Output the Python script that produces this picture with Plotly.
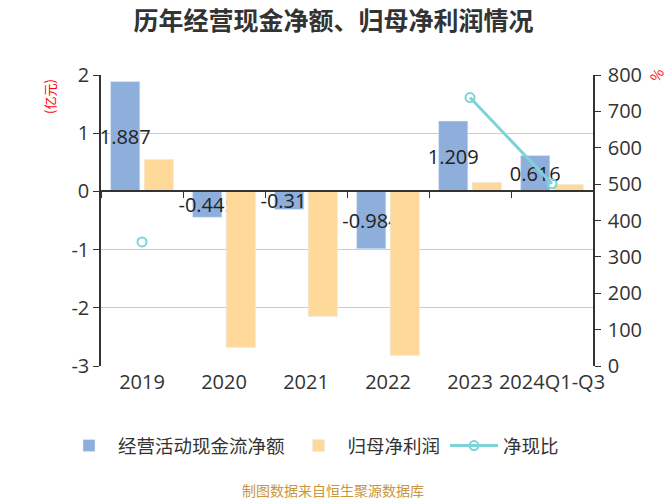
import plotly.graph_objects as go

categories = ["2019", "2020", "2021", "2022", "2023", "2024Q1-Q3"]
cash_flow = [1.887, -0.445, -0.311, -0.984, 1.209, 0.616]
net_profit = [0.55, -2.68, -2.15, -2.82, 0.155, 0.12]
ratio = [341, None, None, None, 738, 501]
cash_labels = ["1.887", "-0.445", "-0.311", "-0.984", "1.209", "0.616"]
left_ticks = [2, 1, 0, -1, -2, -3]
left_tick_text = ["2", "1", "0", "-1", "-2", "-3"]

FONT = "Open Sans, Noto Sans CJK SC"
CJK = "Noto Sans CJK SC"
BLUE = "#8EAFDC"
ORANGE = "#FFD999"
CYAN = "#7CD3D8"
TICK = 20

fig = go.Figure()
fig.add_trace(go.Bar(
    x=categories, y=cash_flow, name="经营活动现金流净额",
    marker=dict(color=BLUE), text=cash_labels, textangle=0,
    textposition="inside", insidetextanchor="middle", constraintext="none",
    textfont=dict(color="#222", size=20, family=FONT), cliponaxis=False,
))
fig.add_trace(go.Bar(
    x=categories, y=net_profit, name="归母净利润",
    marker=dict(color=ORANGE),
))
fig.add_trace(go.Scatter(
    x=categories, y=ratio, name="净现比", yaxis="y2",
    mode="lines+markers", connectgaps=False,
    line=dict(color=CYAN, width=3),
    marker=dict(symbol="circle-open", size=9, color=CYAN, line=dict(width=2, color=CYAN)),
))
# dummy trace for the zero-line tick axis
fig.add_trace(go.Scatter(x=categories, y=[None]*len(categories), xaxis="x2",
                         showlegend=False, hoverinfo="skip"))

fig.update_layout(
    width=667, height=500,
    margin=dict(l=101, r=74, t=75, b=134),
    paper_bgcolor="white", plot_bgcolor="white",
    font=dict(family=FONT, color="#333"),
    title=dict(text="<b>历年经营现金净额、归母净利润情况</b>", x=0.5, xanchor="center",
               y=0.958, yanchor="middle", font=dict(size=25, color="#333", family=CJK)),
    barmode="group", bargap=0.18, bargroupgap=0.13,
    xaxis=dict(type="category", showline=False, ticks="", showgrid=False,
               tickfont=dict(size=TICK, color="#333"), ticklabelstandoff=2),
    xaxis2=dict(type="category", overlaying="x", anchor="free", position=0.6,
                showline=True, linecolor="#333", linewidth=1.5, ticks="outside",
                tickson="boundaries", ticklen=6, tickcolor="#333",
                showticklabels=False, showgrid=False, matches="x"),
    yaxis=dict(range=[-3, 2], tickmode="array", tickvals=left_ticks, ticktext=left_tick_text,
               showline=True, linecolor="#333", linewidth=1.5,
               ticks="outside", ticklen=6, tickcolor="#333",
               showgrid=True, gridcolor="#cccccc", gridwidth=1, zeroline=False,
               tickfont=dict(size=TICK, color="#333")),
    yaxis2=dict(range=[0, 800], dtick=100, overlaying="y", side="right",
                showline=True, linecolor="#333", linewidth=1.5,
                ticks="outside", ticklen=6, tickcolor="#333", ticklabelstandoff=3,
                showgrid=False, zeroline=False, tickfont=dict(size=TICK, color="#333")),
    legend=dict(orientation="h", x=(60 - 101) / 492, xanchor="left", y=-0.275, yanchor="middle",
                font=dict(size=18.5, color="#333", family=CJK), itemwidth=48, traceorder="normal"),
)

pw = 667 - 101 - 74
ph = 500 - 75 - 134


def px_ann(text, px, py, size, color, angle=0):
    fig.add_annotation(text=text, x=(px - 101) / pw, y=(500 - 134 - py) / ph,
                       xref="paper", yref="paper", xanchor="center", yanchor="middle",
                       showarrow=False, textangle=angle,
                       font=dict(size=size, color=color, family=CJK))


px_ann("(亿元)", 50, 97, 13, "red", -90)
px_ann("%", 656, 75, 14, "red", -60)
px_ann("制图数据来自恒生聚源数据库", 333, 490, 14, "#C8963C")

fig.write_html("out.html")
